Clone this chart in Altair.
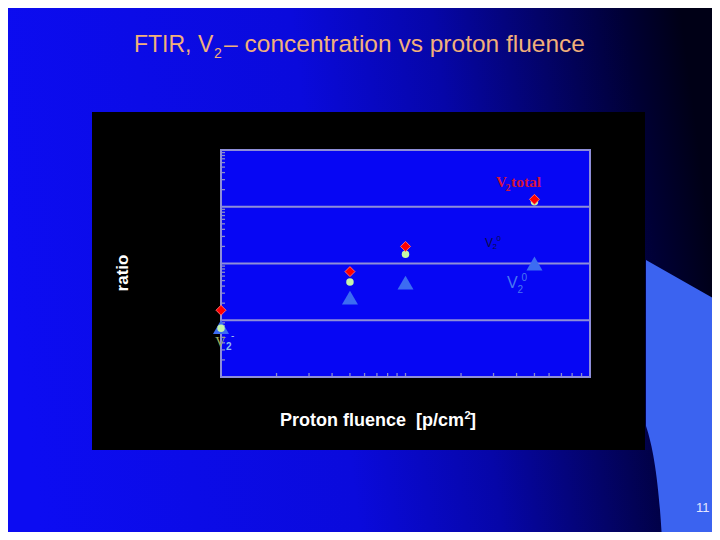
import altair as alt
import pandas as pd

# ---------------- data ----------------
fluence = [1e13, 5e13, 1e14, 5e14]          # proton fluence [p/cm2]
v2_total = [0.15, 0.72, 2.0, 13.5]          # red diamonds
v2_minus = [0.072, 0.47, 1.45, 12.3]        # light-green circles
v2_zero = [0.076, 0.25, 0.46, 1.0]          # blue triangles

grid_values = [0.1, 1, 10]
x_tick_values = [2e13, 3e13, 4e13, 5e13, 6e13, 7e13, 8e13, 9e13, 1e14,
                 2e14, 3e14, 4e14, 5e14, 6e14, 7e14, 8e14, 9e14]
y_tick_values = [m * d for d in [0.01, 0.1, 1, 10] for m in range(2, 10)]

x_domain = [1e13, 1e15]
y_domain = [0.01, 100]

# ---------------- layout ----------------
W, H = 369, 227            # plot area
OX, OY = 221, 150          # page position of plot area
PAGE_R, PAGE_B = 712, 532  # right / bottom edge of the drawing on the page
FRAME = "#8E8ED8"
TICK = "#8C8CC8"

xsc = alt.Scale(type="log", domain=x_domain, nice=False)
ysc = alt.Scale(type="log", domain=y_domain, nice=False)

one = pd.DataFrame({"k": [0]})


def vx(px):
    return alt.value(px - OX)


def vy(py):
    return alt.value(py - OY)


def txt(s, px, py, size, color, font="Liberation Sans", weight="normal",
        align="left", baseline="alphabetic", angle=0):
    return alt.Chart(one).mark_text(
        text=s, fontSize=size, color=color, font=font, fontWeight=weight,
        align=align, baseline=baseline, angle=angle
    ).encode(x=vx(px), y=vy(py))


grad = alt.LinearGradient(
    gradient="linear",
    stops=[
        alt.GradientStop(offset=0, color="#0C0CF2"),
        alt.GradientStop(offset=0.45, color="#0A0ADC"),
        alt.GradientStop(offset=0.65, color="#0606A8"),
        alt.GradientStop(offset=0.8, color="#030368"),
        alt.GradientStop(offset=0.92, color="#000035"),
        alt.GradientStop(offset=1, color="#000016"),
    ],
    x1=0, y1=0.55, x2=1, y2=0.45,
)

bg = alt.Chart(one).mark_rect(fill=grad).encode(
    x=vx(8), x2=vx(PAGE_R), y=vy(8), y2=vy(PAGE_B))

swoosh = alt.Chart(one).mark_point(
    shape="M0,0 L74,42 L74,280 L16,280 C13,225 8,190 0,166 Z",
    size=4, filled=True, opacity=1, color="#3B63F0", strokeWidth=0
).encode(x=vx(646), y=vy(260))

box = alt.Chart(one).mark_rect(fill="#000000").encode(
    x=vx(92), x2=vx(645), y=vy(112), y2=vy(450))

plotbg = alt.Chart(one).mark_rect(fill="#0606F4").encode(
    x=alt.value(0), x2=alt.value(W), y=alt.value(0), y2=alt.value(H))

grid = alt.Chart(pd.DataFrame({"g": grid_values})).mark_rule(
    color=FRAME, strokeWidth=2
).encode(y=alt.Y("g:Q", scale=ysc, axis=None))

xticks = alt.Chart(pd.DataFrame({"t": x_tick_values})).mark_rule(
    color=TICK, strokeWidth=1.3
).encode(x=alt.X("t:Q", scale=xsc, axis=None), y=alt.value(H), y2=alt.value(H - 4))

yticks = alt.Chart(pd.DataFrame({"t": y_tick_values})).mark_rule(
    color=TICK, strokeWidth=1.3
).encode(y=alt.Y("t:Q", scale=ysc, axis=None), x=alt.value(0), x2=alt.value(4))

frame = alt.Chart(one).mark_rect(
    fillOpacity=0, stroke=FRAME, strokeWidth=2
).encode(x=alt.value(0), x2=alt.value(W), y=alt.value(0), y2=alt.value(H))

df = pd.DataFrame({"fluence": fluence, "total": v2_total,
                   "minus": v2_minus, "zero": v2_zero})

tri = alt.Chart(df).mark_point(
    shape="triangle-up", size=256, filled=True, opacity=1, color="#3C6CF2", strokeWidth=0
).encode(x=alt.X("fluence:Q", scale=xsc, axis=None),
         y=alt.Y("zero:Q", scale=ysc, axis=None))

circ = alt.Chart(df).mark_point(
    shape="circle", size=56, filled=True, opacity=1, color="#C4F5A8", strokeWidth=0
).encode(x=alt.X("fluence:Q", scale=xsc, axis=None),
         y=alt.Y("minus:Q", scale=ysc, axis=None))

dia = alt.Chart(df).mark_point(
    shape="diamond", size=100, filled=True, opacity=1, fill="#FF0000",
    stroke="#FF6A6A", strokeWidth=1
).encode(x=alt.X("fluence:Q", scale=xsc, axis=None),
         y=alt.Y("total:Q", scale=ysc, axis=None))

TITLE_C = "#F2B07A"
texts = [
    # slide title
    txt("FTIR, V", 134, 51.5, 23, TITLE_C),
    txt("2", 214, 57.5, 14, TITLE_C),
    txt("\u2013 concentration vs proton fluence", 585, 51.5, 24.5, TITLE_C, align="right"),
    # axis titles
    txt("ratio", 123, 273, 17, "#FFFFFF", weight="bold", align="center",
        baseline="middle", angle=270),
    txt("Proton fluence\u00a0\u00a0[p/cm", 280, 426, 18, "#FFFFFF", weight="bold"),
    txt("2", 464.5, 419, 11, "#FFFFFF", weight="bold"),
    txt("]", 470, 426, 18, "#FFFFFF", weight="bold"),
    # series labels
    txt("V", 496, 187, 15, "#D4143C", font="Liberation Serif", weight="bold"),
    txt("2", 505.5, 190.5, 10, "#D4143C", font="Liberation Serif", weight="bold"),
    txt("total", 511, 187, 15.5, "#D4143C", font="Liberation Serif", weight="bold"),
    txt("V", 507, 288, 16, "#4A78F0"),
    txt("2", 517.5, 293, 10, "#4A78F0"),
    txt("0", 521.5, 281, 10, "#4A78F0"),
    txt("V", 485, 246.5, 12, "#0A0A4A"),
    txt("2", 492.5, 248.5, 8, "#0A0A4A"),
    txt("0", 496.5, 240.5, 8, "#0A0A4A"),
    txt("V", 215, 346.5, 15, "#9CAE5E", font="Liberation Serif"),
    txt("2", 226, 350, 10, "#90C0EE", weight="bold"),
    txt("-", 231, 339, 10, "#B0C8E8"),
    # page number
    txt("11", 696, 511.5, 13, "#E6E6FF"),
]

chart = alt.layer(
    bg, swoosh, box, plotbg, grid, xticks, yticks, frame, tri, circ, dia, *texts
).properties(
    width=W, height=H,
    padding={"left": OX - 8, "top": OY - 8,
             "right": PAGE_R - OX - W, "bottom": PAGE_B - OY - H},
    autosize="none",
    background="#0808E0",
).configure_view(strokeWidth=0)

chart.save("out.html", embed_options={"renderer": "svg", "actions": False})
